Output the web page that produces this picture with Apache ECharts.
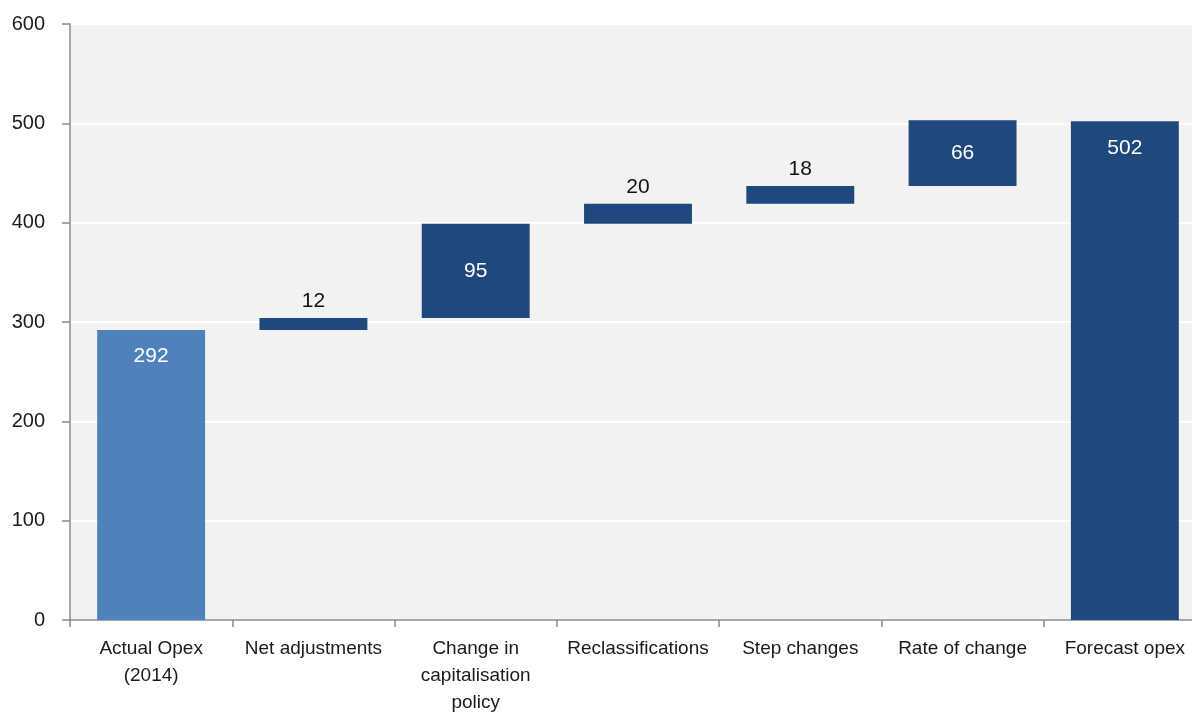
<!DOCTYPE html>
<html>
<head>
<meta charset="utf-8">
<style>
  html, body { margin: 0; padding: 0; background: #ffffff; overflow: hidden; }
  /* plot area runs slightly past the right edge of the window */
  #chart { width: 1206px; height: 713px; }
</style>
<script src="https://cdn.jsdelivr.net/npm/echarts@6/dist/echarts.min.js"></script>
</head>
<body>
<div id="chart"></div>
<script>
// Opex waterfall: starting level, step contributions, forecast total ($m)
const categories = [
  'Actual Opex\n(2014)',
  'Net adjustments',
  'Change in\ncapitalisation\npolicy',
  'Reclassifications',
  'Step changes',
  'Rate of change',
  'Forecast opex'
];
const startValue = 292;
const stepValues = [12, 95, 20, 18, 66];
const endValue = 502;
const yTicks = { min: 0, max: 600, interval: 100 };

// Label placement per column: small steps sit above, larger ones inside
const labelPlacement = ['insideTop', 'top', 'inside', 'top', 'top', 'inside', 'insideTop'];

const totalColor = '#4f81bd';
const stepColor = '#1f497d';
const fontFamily = 'Liberation Sans, Arial, sans-serif';

// Invisible offsets that lift each step to the running total
const offsets = [0];
let running = startValue;
stepValues.forEach(v => { offsets.push(running); running += v; });
offsets.push(0);

const visibleValues = [startValue, ...stepValues, endValue];

const barData = visibleValues.map((v, i) => {
  const pos = labelPlacement[i];
  const inside = pos !== 'top';
  return {
    value: v,
    itemStyle: { color: i === 0 ? totalColor : stepColor },
    label: {
      show: true,
      position: pos,
      distance: pos === 'insideTop' ? 16 : 6,
      color: inside ? '#ffffff' : '#111111'
    }
  };
});

const chart = echarts.init(document.getElementById('chart'));
chart.setOption({
  animation: false,
  textStyle: { fontFamily: fontFamily },
  grid: {
    left: 70, top: 24, bottom: 93, right: 0,
    containLabel: false,
    outerBoundsMode: 'none',
    show: true, backgroundColor: '#f2f2f2', borderWidth: 0
  },
  xAxis: {
    type: 'category',
    data: categories,
    axisLine: { show: true, lineStyle: { color: '#8c8c8c', width: 1.5 } },
    axisTick: { show: true, alignWithLabel: false, length: 7, lineStyle: { color: '#8c8c8c', width: 1.5 } },
    axisLabel: {
      interval: 0, margin: 15, color: '#1a1a1a',
      fontSize: 19, lineHeight: 27, fontFamily: fontFamily
    },
    splitLine: { show: false }
  },
  yAxis: {
    type: 'value',
    min: yTicks.min, max: yTicks.max, interval: yTicks.interval,
    axisLine: { show: true, lineStyle: { color: '#8c8c8c', width: 1.5 } },
    axisTick: { show: true, length: 8, lineStyle: { color: '#8c8c8c', width: 1.5 } },
    axisLabel: {
      margin: 25, color: '#1a1a1a', fontSize: 20, fontFamily: fontFamily
    },
    splitLine: { show: true, lineStyle: { color: '#ffffff', width: 2 } }
  },
  series: [
    {
      name: 'offset',
      type: 'bar',
      stack: 'waterfall',
      data: offsets,
      barWidth: '66.5%',
      itemStyle: { color: 'transparent' },
      emphasis: { disabled: true },
      silent: true
    },
    {
      name: 'value',
      type: 'bar',
      stack: 'waterfall',
      data: barData,
      barWidth: '66.5%',
      label: { fontSize: 21, fontFamily: fontFamily }
    }
  ]
});
</script>
</body>
</html>
